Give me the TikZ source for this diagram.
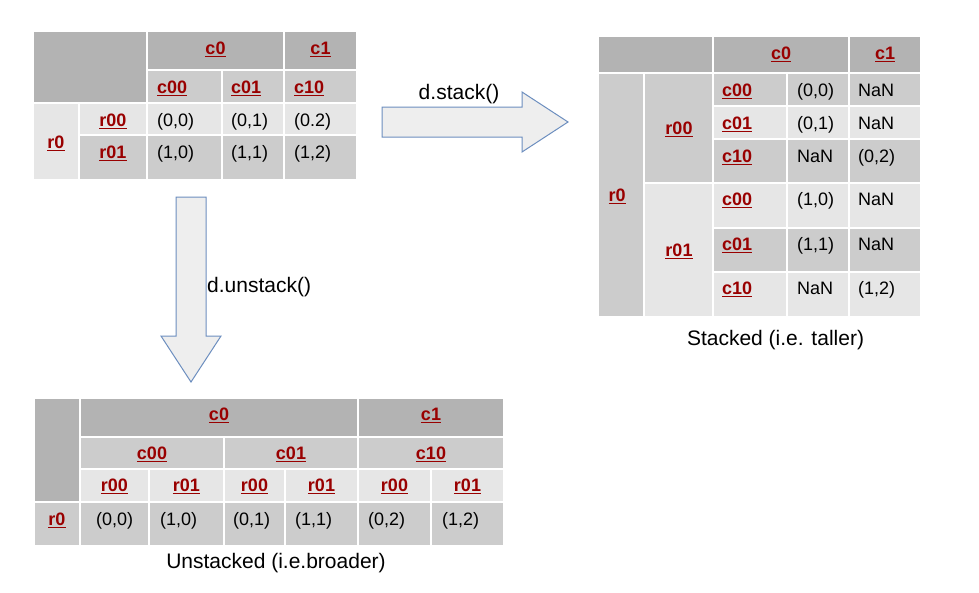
\documentclass[tikz,border=0pt]{standalone}
\usepackage{fontspec}
\setmainfont{Liberation Sans}
\definecolor{hdark}{HTML}{B3B3B3}
\definecolor{hmid}{HTML}{CCCCCC}
\definecolor{hlight}{HTML}{E6E6E6}
\definecolor{lblred}{HTML}{990000}
\definecolor{arrowfill}{HTML}{EEEEEE}
\definecolor{arrowline}{HTML}{6C8EBF}
% underlined index label
\newcommand\ulbl[1]{\setbox0\hbox{#1}\rlap{\smash{\rule[-2.8pt]{\wd0}{1.2pt}}}\box0}
\begin{document}
\begin{tikzpicture}[x=1pt,y=-1pt,
  darkcell/.style={fill=hdark,draw=white,line width=2pt},
  midcell/.style={fill=hmid,draw=white,line width=2pt},
  lightcell/.style={fill=hlight,draw=white,line width=2pt},
  lbl/.style={inner sep=0pt,anchor=base,text=lblred,font=\fontsize{18}{20}\selectfont\bfseries},
  val/.style={inner sep=0pt,anchor=base west,font=\fontsize{18}{20}\selectfont},
  captext/.style={inner sep=0pt,anchor=base,font=\fontsize{21}{24}\selectfont},
  blockarrow/.style={fill=arrowfill,draw=arrowline,line width=1pt,line join=miter}]
 \useasboundingbox (0,0) rectangle (979,592);
 % original frame
 \draw[darkcell] (33,31) rectangle (147,103);
 \draw[darkcell] (147,31) rectangle (284,70);
 \draw[darkcell] (284,31) rectangle (357,70);
 \draw[midcell] (147,70) rectangle (222,103);
 \draw[midcell] (222,70) rectangle (284,103);
 \draw[midcell] (284,70) rectangle (357,103);
 \draw[lightcell] (33,103) rectangle (79,180);
 \draw[lightcell] (79,103) rectangle (147,135);
 \draw[lightcell] (147,103) rectangle (222,135);
 \draw[lightcell] (222,103) rectangle (284,135);
 \draw[lightcell] (284,103) rectangle (357,135);
 \draw[midcell] (79,135) rectangle (147,180);
 \draw[midcell] (147,135) rectangle (222,180);
 \draw[midcell] (222,135) rectangle (284,180);
 \draw[midcell] (284,135) rectangle (357,180);
 \node[lbl] (o-c0) at (215.5,54) {\ulbl{c0}};
 \node[lbl] (o-c1) at (320.5,54) {\ulbl{c1}};
 \node[lbl,anchor=base west] (o-c00) at (157,93) {\ulbl{c00}};
 \node[lbl,anchor=base west] (o-c01) at (231,93) {\ulbl{c01}};
 \node[lbl,anchor=base west] (o-c10) at (294,93) {\ulbl{c10}};
 \node[lbl] (o-r0) at (56,148) {\ulbl{r0}};
 \node[lbl] (o-r00) at (113,126) {\ulbl{r00}};
 \node[lbl] (o-r01) at (113,158) {\ulbl{r01}};
 \node[val] (o-00) at (157,126) {(0,0)};
 \node[val] (o-01) at (231,126) {(0,1)};
 \node[val] (o-02) at (294,126) {(0.2)};
 \node[val] (o-10) at (157,158) {(1,0)};
 \node[val] (o-11) at (231,158) {(1,1)};
 \node[val] (o-12) at (294,158) {(1,2)};
 % stacked frame
 \draw[darkcell] (598,36) rectangle (713,73);
 \draw[darkcell] (713,36) rectangle (849,73);
 \draw[darkcell] (849,36) rectangle (921,73);
 \draw[midcell] (598,73) rectangle (644,317);
 \draw[midcell] (644,73) rectangle (713,183);
 \draw[lightcell] (644,183) rectangle (713,317);
 \draw[midcell] (713,73) rectangle (787,106);
 \draw[midcell] (787,73) rectangle (849,106);
 \draw[midcell] (849,73) rectangle (921,106);
 \draw[lightcell] (713,106) rectangle (787,139);
 \draw[lightcell] (787,106) rectangle (849,139);
 \draw[lightcell] (849,106) rectangle (921,139);
 \draw[midcell] (713,139) rectangle (787,183);
 \draw[midcell] (787,139) rectangle (849,183);
 \draw[midcell] (849,139) rectangle (921,183);
 \draw[lightcell] (713,183) rectangle (787,228);
 \draw[lightcell] (787,183) rectangle (849,228);
 \draw[lightcell] (849,183) rectangle (921,228);
 \draw[midcell] (713,228) rectangle (787,272);
 \draw[midcell] (787,228) rectangle (849,272);
 \draw[midcell] (849,228) rectangle (921,272);
 \draw[lightcell] (713,272) rectangle (787,317);
 \draw[lightcell] (787,272) rectangle (849,317);
 \draw[lightcell] (849,272) rectangle (921,317);
 \node[lbl] (s-c0) at (781,59) {\ulbl{c0}};
 \node[lbl] (s-c1) at (885,59) {\ulbl{c1}};
 \node[lbl] (s-r0) at (617,201.5) {\ulbl{r0}};
 \node[lbl] (s-r00) at (679,134.5) {\ulbl{r00}};
 \node[lbl] (s-r01) at (679,256.5) {\ulbl{r01}};
 \node[lbl,anchor=base west] (s-c00a) at (722,96) {\ulbl{c00}};
 \node[lbl,anchor=base west] (s-c01a) at (722,129) {\ulbl{c01}};
 \node[lbl,anchor=base west] (s-c10a) at (722,162) {\ulbl{c10}};
 \node[lbl,anchor=base west] (s-c00b) at (722,205) {\ulbl{c00}};
 \node[lbl,anchor=base west] (s-c01b) at (722,250) {\ulbl{c01}};
 \node[lbl,anchor=base west] (s-c10b) at (722,294) {\ulbl{c10}};
 \node[val] (s-00a) at (797,96) {(0,0)};
 \node[val] (s-00b) at (858,96) {NaN};
 \node[val] (s-01a) at (797,129) {(0,1)};
 \node[val] (s-01b) at (858,129) {NaN};
 \node[val] (s-02a) at (797,162) {NaN};
 \node[val] (s-02b) at (858,162) {(0,2)};
 \node[val] (s-10a) at (797,205) {(1,0)};
 \node[val] (s-10b) at (858,205) {NaN};
 \node[val] (s-11a) at (797,250) {(1,1)};
 \node[val] (s-11b) at (858,250) {NaN};
 \node[val] (s-12a) at (797,294) {NaN};
 \node[val] (s-12b) at (858,294) {(1,2)};
 \node[captext] (s-cap) at (775.5,345) {Stacked (i.e. taller)};
 % unstacked frame
 \draw[darkcell] (34,398) rectangle (80,502);
 \draw[darkcell] (80,398) rectangle (358,437);
 \draw[darkcell] (358,398) rectangle (504,437);
 \draw[midcell] (80,437) rectangle (224,469);
 \draw[midcell] (224,437) rectangle (358,469);
 \draw[midcell] (358,437) rectangle (504,469);
 \draw[lightcell] (80,469) rectangle (149,502);
 \draw[lightcell] (149,469) rectangle (224,502);
 \draw[lightcell] (224,469) rectangle (285,502);
 \draw[lightcell] (285,469) rectangle (358,502);
 \draw[lightcell] (358,469) rectangle (431,502);
 \draw[lightcell] (431,469) rectangle (504,502);
 \draw[midcell] (34,502) rectangle (80,546);
 \draw[midcell] (80,502) rectangle (149,546);
 \draw[midcell] (149,502) rectangle (224,546);
 \draw[midcell] (224,502) rectangle (285,546);
 \draw[midcell] (285,502) rectangle (358,546);
 \draw[midcell] (358,502) rectangle (431,546);
 \draw[midcell] (431,502) rectangle (504,546);
 \node[lbl] (u-c0) at (219,420) {\ulbl{c0}};
 \node[lbl] (u-c1) at (431,420) {\ulbl{c1}};
 \node[lbl] (u-c00) at (152,459) {\ulbl{c00}};
 \node[lbl] (u-c01) at (291,459) {\ulbl{c01}};
 \node[lbl] (u-c10) at (431,459) {\ulbl{c10}};
 \node[lbl] (u-r00a) at (114.5,491.5) {\ulbl{r00}};
 \node[lbl] (u-r01a) at (186.5,491.5) {\ulbl{r01}};
 \node[lbl] (u-r00b) at (254.5,491.5) {\ulbl{r00}};
 \node[lbl] (u-r01b) at (321.5,491.5) {\ulbl{r01}};
 \node[lbl] (u-r00c) at (394.5,491.5) {\ulbl{r00}};
 \node[lbl] (u-r01c) at (467.5,491.5) {\ulbl{r01}};
 \node[lbl] (u-r0) at (57,525) {\ulbl{r0}};
 \node[val] (u-00) at (96,525) {(0,0)};
 \node[val] (u-10) at (160,525) {(1,0)};
 \node[val] (u-01) at (233,525) {(0,1)};
 \node[val] (u-11) at (295,525) {(1,1)};
 \node[val] (u-02) at (368,525) {(0,2)};
 \node[val] (u-12) at (442,525) {(1,2)};
 \node[captext] (u-cap) at (276,568) {Unstacked (i.e.broader)};
 % block arrows
 \draw[blockarrow] (382,107) -- (522,107) -- (522,92) -- (568,122)
   -- (522,152) -- (522,137) -- (382,137) -- cycle;
 \node[captext] (stack) at (459,99) {d.stack()};
 \draw[blockarrow] (176,197) -- (206,197) -- (206,336) -- (221,336)
   -- (191,382) -- (161,336) -- (176,336) -- cycle;
 \node[captext,anchor=base west] (unstack) at (207,292) {d.unstack()};
\end{tikzpicture}
\end{document}
